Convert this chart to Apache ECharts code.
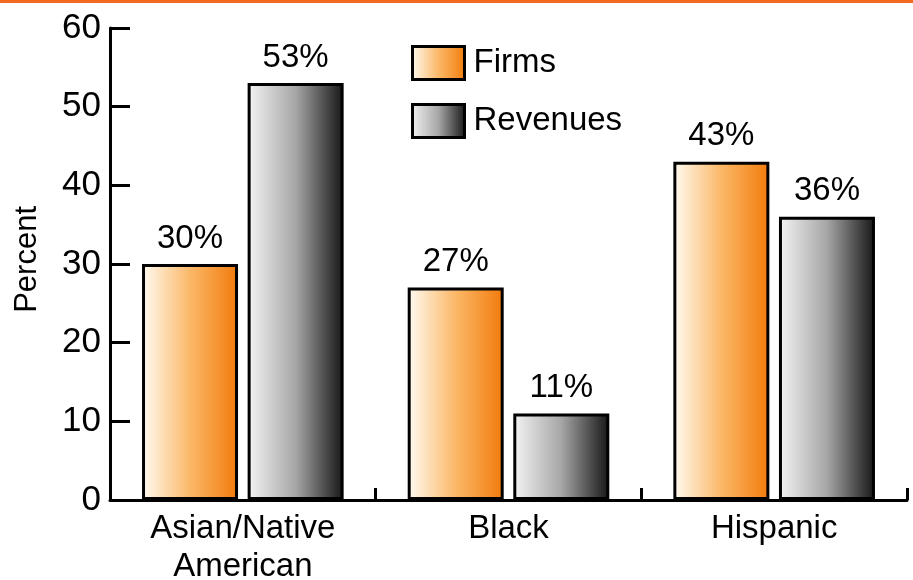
<!DOCTYPE html>
<html lang="en">
<head>
    <meta charset="UTF-8">
    <title>Firms and revenues</title>
    <script src="https://cdn.jsdelivr.net/npm/echarts@6/dist/echarts.min.js"></script>
    <style>
        body { margin: 0; background: #fff; }
    </style>
</head>
<body>
    <div id="chart" style="width: 913px; height: 580px"></div>
    <script type="text/javascript">
        let categories = ['Asian/Native\nAmerican', 'Black', 'Hispanic'];
        let firms = [30, 27, 43];
        let revenues = [53, 11, 36];
        let yTicks = [0, 10, 20, 30, 40, 50, 60];

        let font = '"Liberation Sans", Arial, sans-serif';

        function grad(from, mid, to) {
            return new echarts.graphic.LinearGradient(0, 0, 1, 0, [
                {offset: 0, color: from},
                {offset: 0.5, color: mid},
                {offset: 1, color: to}
            ]);
        }
        let orange = grad('#fffbf2', '#fbb868', '#f27a0a');
        let gray = grad('#f4f4f4', '#a6a6a6', '#151515');

        let myChart = echarts.init(document.getElementById('chart'));
        let labelStyle = {show: true, position: 'top', formatter: '{c}%', distance: 9,
            fontFamily: font, fontSize: 33, color: '#000'};
        let option = {
            animation: false,
            grid: {left: 110, right: 6, top: 28, bottom: 80, containLabel: false, outerBoundsMode: 'none'},
            graphic: [{
                type: 'rect',
                shape: {x: 0, y: 0, width: 913, height: 3},
                style: {fill: '#f26a1f'}
            }, {
                type: 'text',
                left: 12, top: 206,
                rotation: Math.PI / 2,
                style: {text: 'Percent', font: '31px ' + font, fill: '#000'}
            }],
            legend: {
                orient: 'vertical',
                left: 411, top: 45, padding: 0,
                icon: 'rect',
                itemWidth: 52, itemHeight: 33, itemGap: 22,
                itemStyle: {borderColor: '#000', borderWidth: 3},
                textStyle: {fontFamily: font, fontSize: 33, color: '#000', padding: [0, 0, 0, 4]},
                data: ['Firms', 'Revenues']
            },
            xAxis: {
                type: 'category',
                data: categories,
                axisLine: {lineStyle: {color: '#000', width: 3}},
                axisTick: {show: true, inside: true, length: 12, lineStyle: {color: '#000', width: 3}},
                axisLabel: {fontFamily: font, fontSize: 33, color: '#000', margin: 10, lineHeight: 38}
            },
            yAxis: {
                type: 'value',
                min: yTicks[0], max: yTicks[yTicks.length - 1], interval: 10,
                axisLine: {show: true, lineStyle: {color: '#000', width: 3}},
                axisTick: {show: true, inside: true, length: 20, lineStyle: {color: '#000', width: 3}},
                axisLabel: {fontFamily: font, fontSize: 35, color: '#000', margin: 9},
                splitLine: {show: false}
            },
            series: [{
                name: 'Firms',
                type: 'bar',
                data: firms,
                barWidth: 96,
                barGap: '10%',
                itemStyle: {color: orange, borderColor: '#000', borderWidth: 3},
                label: labelStyle
            }, {
                name: 'Revenues',
                type: 'bar',
                data: revenues,
                barWidth: 96,
                barGap: '10%',
                itemStyle: {color: gray, borderColor: '#000', borderWidth: 3},
                label: labelStyle
            }]
        };
        myChart.setOption(option);
    </script>
</body>
</html>
